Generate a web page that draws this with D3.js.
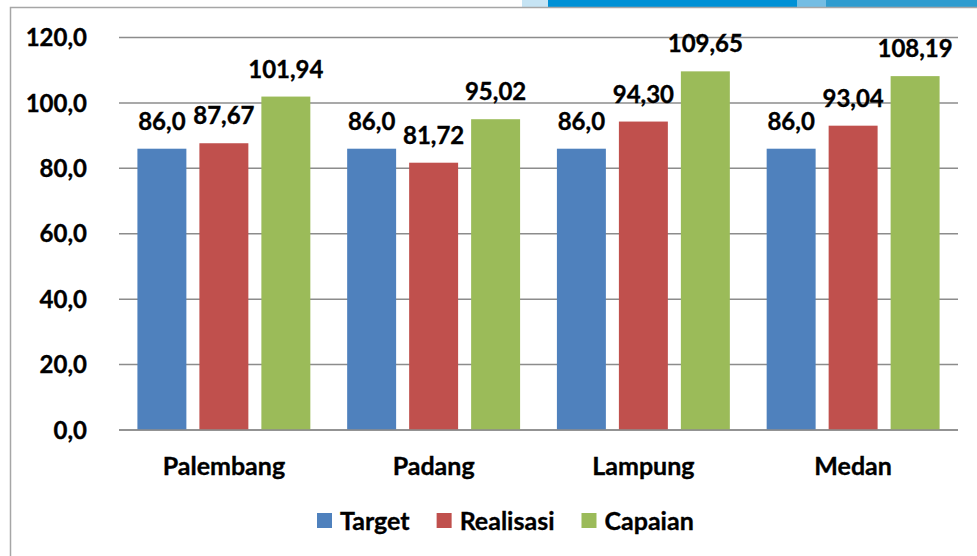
<!DOCTYPE html>
<html>
<head>
<meta charset="utf-8">
<script src="https://cdn.jsdelivr.net/npm/d3@7"></script>
<style>
  html, body { margin: 0; padding: 0; background: #fff; }
  svg { display: block; font-family: Lato, "Open Sans", sans-serif; font-weight: bold; }
  svg text { stroke: #000; stroke-width: 0.35px; }
</style>
</head>
<body>
<svg id="chart" width="977" height="556"></svg>
<script>
const categories = ["Palembang", "Padang", "Lampung", "Medan"];
const seriesNames = ["Target", "Realisasi", "Capaian"];
const target = [86.0, 86.0, 86.0, 86.0];
const realisasi = [87.67, 81.72, 94.30, 93.04];
const capaian = [101.94, 95.02, 109.65, 108.19];
const yTicks = [0, 20, 40, 60, 80, 100, 120];

const colors = ["#4f81bd", "#c0504d", "#9bbb59"];
const decimals = [1, 2, 2];

const svg = d3.select("#chart");

const width = 977;
const height = 556;
const marginTop = 37.5;
const marginRight = 19;
const marginBottom = 126;
const marginLeft = 119;

const values = [target, realisasi, capaian];

// decorative strip at the top of the slide
const strip = [
  {x0: 522, x1: 548, c: "#c6e4f4"},
  {x0: 548, x1: 797, c: "#0091d6"},
  {x0: 797, x1: 826, c: "#74bde3"},
  {x0: 826, x1: 977, c: "#2f9ccf"}
];
svg.selectAll("rect.strip")
  .data(strip)
  .enter().append("rect")
  .attr("class", "strip")
  .attr("x", d => d.x0).attr("y", 0)
  .attr("width", d => d.x1 - d.x0).attr("height", 7)
  .attr("fill", d => d.c);

// chart frame
svg.append("path")
  .attr("d", `M10.5,${height} V7.5 H${width}`)
  .attr("fill", "none")
  .attr("stroke", "#a6a6a6")
  .attr("stroke-width", 1.5);

const x0 = d3.scaleBand()
  .domain(categories)
  .range([marginLeft, width - marginRight])
  .padding(0);

const x1 = d3.scaleBand()
  .domain(seriesNames)
  .range([0, x0.bandwidth()])
  .paddingInner(0.21)
  .paddingOuter(0.297);

const y = d3.scaleLinear()
  .domain([0, 120])
  .range([height - marginBottom, marginTop]);

const fmt = (v, d) => d3.format(`.${d}f`)(v).replace(".", ",");

// gridlines
svg.append("g")
  .selectAll("line")
  .data(yTicks)
  .enter().append("line")
  .attr("x1", marginLeft).attr("x2", width - marginRight)
  .attr("y1", d => y(d)).attr("y2", d => y(d))
  .attr("stroke", "#8c8c8c")
  .attr("stroke-width", 1.5);

// y labels
svg.append("g")
  .selectAll("text")
  .data(yTicks)
  .enter().append("text")
  .attr("x", 87)
  .attr("y", d => y(d))
  .attr("dy", "0.36em")
  .attr("text-anchor", "end")
  .attr("font-size", 24)
  .attr("fill", "#000")
  .text(d => fmt(d, 1));

// bars
const groups = svg.append("g")
  .selectAll("g")
  .data(categories)
  .enter().append("g")
  .attr("transform", d => `translate(${x0(d)},0)`);

const cells = groups.selectAll("g")
  .data((c, i) => seriesNames.map((s, j) => ({s, j, v: values[j][i]})))
  .enter().append("g");

cells.append("rect")
  .attr("x", d => x1(d.s))
  .attr("width", x1.bandwidth())
  .attr("y", d => y(d.v))
  .attr("height", d => y(0) - y(d.v))
  .attr("fill", d => colors[d.j]);

cells.append("text")
  .attr("x", d => x1(d.s) + x1.bandwidth() / 2)
  .attr("y", d => y(d.v) - 19)
  .attr("text-anchor", "middle")
  .attr("font-size", 24)
  .attr("fill", "#000")
  .text(d => fmt(d.v, decimals[d.j]));

// zero axis line drawn over bars
svg.append("line")
  .attr("x1", marginLeft).attr("x2", width - marginRight)
  .attr("y1", y(0)).attr("y2", y(0))
  .attr("stroke", "#8c8c8c")
  .attr("stroke-width", 1.5);

// category labels
svg.append("g")
  .selectAll("text")
  .data(categories)
  .enter().append("text")
  .attr("x", d => x0(d) + x0.bandwidth() / 2)
  .attr("y", 475)
  .attr("text-anchor", "middle")
  .attr("font-size", 25)
  .attr("fill", "#000")
  .text(d => d);

// legend
const legend = svg.append("g").attr("transform", "translate(317,0)");
let lx = 0;
seriesNames.forEach((s, j) => {
  const item = legend.append("g").attr("transform", `translate(${lx},0)`);
  item.append("rect")
    .attr("x", 0).attr("y", 513)
    .attr("width", 15).attr("height", 15)
    .attr("fill", colors[j]);
  const t = item.append("text")
    .attr("x", 23).attr("y", 530)
    .attr("font-size", 25)
    .attr("fill", "#000")
    .text(s);
  lx += 23 + t.node().getComputedTextLength() + 27;
});
</script>
</body>
</html>
